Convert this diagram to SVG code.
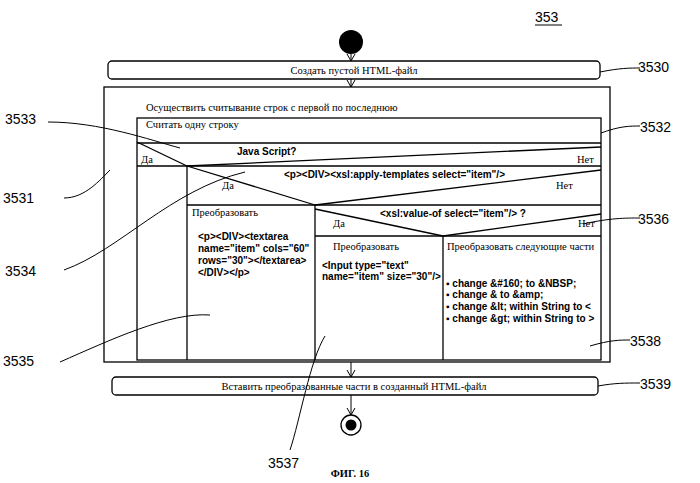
<svg xmlns="http://www.w3.org/2000/svg" width="700" height="483" viewBox="0 0 700 483">
<defs>
<marker id="ar" markerWidth="10" markerHeight="10" refX="8" refY="5" orient="auto" markerUnits="userSpaceOnUse"><path d="M1,1 L8,5 L1,9" fill="none" stroke="#000" stroke-width="1"/></marker>
</defs>
<style>
.b{fill:none;stroke:#000;stroke-width:1.3}
.s{font-family:"Liberation Serif",serif;font-size:10.5px}
.h{font-family:"Liberation Sans",Arial,sans-serif;font-size:10px;font-weight:bold}
.n{font-family:"Liberation Sans",Arial,sans-serif;font-size:14px}
.l{fill:none;stroke:#000;stroke-width:1}
</style>
<rect width="700" height="483" fill="#fff"/>
<text class="n" x="535" y="22">353</text>
<line x1="535" y1="25" x2="562" y2="25" stroke="#000"/>
<g id="start"><circle cx="351" cy="42" r="12" fill="#000"/></g>
<g id="n3530"><rect class="b" x="108" y="61" width="492" height="18" rx="4"/><text class="s" x="354" y="74" text-anchor="middle">Создать пустой HTML-файл</text></g>
<g id="n3531">
<rect class="b" x="104" y="87" width="506" height="275"/>
<text class="s" x="146" y="111">Осуществить считывание строк с первой по последнюю</text>
<rect class="b" x="137" y="118" width="464" height="242"/>
<text class="s" x="146" y="128">Считать одну строку</text>
</g>
<g id="n3533">
<line class="b" x1="137" y1="143" x2="601" y2="143"/>
<line class="b" x1="137" y1="142" x2="187" y2="166"/>
<line class="b" x1="601" y1="147" x2="187" y2="166"/>
<line class="b" x1="137" y1="166" x2="601" y2="166"/>
<text class="h" x="237" y="155" font-size="11">Java Script?</text>
<text class="s" x="141" y="163">Да</text>
<text class="s" x="577" y="163">Нет</text>
</g>
<g id="n3534">
<line class="b" x1="187" y1="166" x2="187" y2="360"/>
<line class="b" x1="187" y1="166" x2="315" y2="205"/>
<line class="b" x1="601" y1="170" x2="315" y2="205"/>
<line class="b" x1="187" y1="205" x2="601" y2="205"/>
<text class="h" x="284" y="178" font-size="10.5">&lt;p&gt;&lt;DIV&gt;&lt;xsl:apply-templates select="item"/&gt;</text>
<text class="s" x="222" y="189">Да</text>
<text class="s" x="556" y="189">Нет</text>
</g>
<g id="n3535">
<line class="b" x1="315" y1="205" x2="315" y2="360"/>
<text class="s" x="192" y="216">Преобразовать</text>
<text class="h" x="198" y="240">&lt;p&gt;&lt;DIV&gt;&lt;textarea</text>
<text class="h" x="198" y="252">name="item" cols="60"</text>
<text class="h" x="198" y="264">rows="30"&gt;&lt;/textarea&gt;</text>
<text class="h" x="198" y="276">&lt;/DIV&gt;&lt;/p&gt;</text>
</g>
<g id="n3536">
<line class="b" x1="315" y1="209" x2="443" y2="236"/>
<line class="b" x1="601" y1="214" x2="443" y2="236"/>
<line class="b" x1="315" y1="236" x2="601" y2="236"/>
<text class="h" x="380" y="217" font-size="10.5">&lt;xsl:value-of select="item"/&gt; ?</text>
<text class="s" x="333" y="227">Да</text>
<text class="s" x="578" y="227">Нет</text>
</g>
<g id="n3537">
<line class="b" x1="443" y1="236" x2="443" y2="360"/>
<text class="s" x="333" y="250">Преобразовать</text>
<text class="h" x="322" y="269">&lt;Input type="text"</text>
<text class="h" x="322" y="280">name="item" size="30"/&gt;</text>
</g>
<g id="n3538">
<text class="s" x="447" y="250">Преобразовать следующие части</text>
<text class="h" x="446" y="287">▪ change &amp;#160; to &amp;NBSP;</text>
<text class="h" x="446" y="298">▪ change &amp; to &amp;amp;</text>
<text class="h" x="446" y="310">▪ change &amp;lt; within String to &lt;</text>
<text class="h" x="446" y="322">▪ change &amp;gt; within String to &gt;</text>
</g>
<g id="n3539"><rect class="b" x="112" y="377" width="486" height="18" rx="4"/><text class="s" x="354" y="390" text-anchor="middle">Вставить преобразованные части в созданный HTML-файл</text></g>
<g id="end"><circle cx="351" cy="425" r="10" fill="none" stroke="#000" stroke-width="1.3"/><circle cx="351" cy="425" r="5.5" fill="#000"/></g>
<g id="connectors">
<line class="l" x1="351" y1="54" x2="351" y2="61" marker-end="url(#ar)"/>
<line class="l" x1="351" y1="79" x2="351" y2="87" marker-end="url(#ar)"/>
<line class="l" x1="351" y1="362" x2="351" y2="377" marker-end="url(#ar)"/>
<line class="l" x1="351" y1="395" x2="351" y2="415" marker-end="url(#ar)"/>
<path class="l" d="M48,122 C100,122 150,140 180,148"/>
<path class="l" d="M600,72 C620,68 630,68 640,68"/>
<path class="l" d="M601,133 C620,126 630,126 640,126"/>
<path class="l" d="M64,198 C85,198 100,180 110,170"/>
<path class="l" d="M64,270 C120,250 170,190 245,172"/>
<path class="l" d="M583,224 C610,218 625,218 640,218"/>
<path class="l" d="M60,362 C110,340 170,312 210,315"/>
<path class="l" d="M290,450 C300,420 310,360 325,336"/>
<path class="l" d="M590,346 C610,340 620,340 630,340"/>
<path class="l" d="M598,386 C615,383 625,383 640,383"/>
</g>
<text class="n" x="638" y="72">3530</text>
<text class="n" x="640" y="132">3532</text>
<text class="n" x="5" y="124">3533</text>
<text class="n" x="3" y="203">3531</text>
<text class="n" x="638" y="224">3536</text>
<text class="n" x="5" y="276">3534</text>
<text class="n" x="630" y="346">3538</text>
<text class="n" x="3" y="366">3535</text>
<text class="n" x="640" y="389">3539</text>
<text class="n" x="268" y="468">3537</text>
<text class="s" x="350" y="477" text-anchor="middle" font-weight="bold" font-size="9">ФИГ. 16</text>
</svg>
